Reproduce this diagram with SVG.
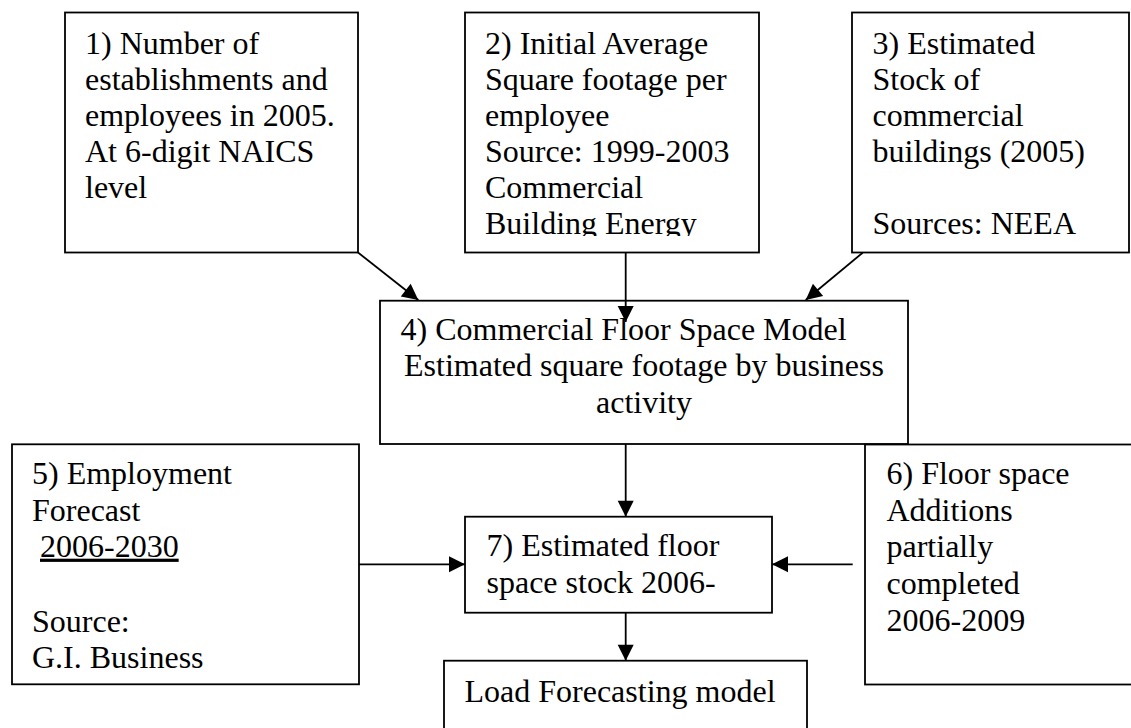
<svg xmlns="http://www.w3.org/2000/svg" width="1131" height="728" viewBox="0 0 1131 728">
<style>
.box{fill:#fff;stroke:#000;stroke-width:1.8}
.t{font-family:"Liberation Serif","Times New Roman",serif;font-size:32px;fill:#000}
.c{stroke:#000;stroke-width:1.8;fill:none}
</style>
<defs>
<marker id="ah" markerUnits="userSpaceOnUse" markerWidth="18" markerHeight="18" refX="16" refY="8" orient="auto" overflow="visible">
<path d="M0,0 L16,8 L0,16 z" fill="#000"/>
</marker>
<clipPath id="clip2"><rect x="465" y="12" width="294" height="224"/></clipPath>
</defs>
<rect width="1131" height="728" fill="#fff"/>
<g id="n1">
<rect class="box" x="65" y="12.5" width="293" height="240"/>
<text class="t" x="85" y="54">1) Number of</text>
<text class="t" x="85" y="90">establishments and</text>
<text class="t" x="85" y="126">employees in 2005.</text>
<text class="t" x="85" y="162">At 6-digit NAICS</text>
<text class="t" x="85" y="198">level</text>
</g>
<g id="n2">
<rect class="box" x="465" y="12.5" width="294" height="240"/>
<g clip-path="url(#clip2)">
<text class="t" x="485" y="53.5">2) Initial Average</text>
<text class="t" x="485" y="89.5">Square footage per</text>
<text class="t" x="485" y="125.5">employee</text>
<text class="t" x="485" y="161.5">Source: 1999-2003</text>
<text class="t" x="485" y="197.5">Commercial</text>
<text class="t" x="485" y="233.5">Building Energy</text>
</g>
</g>
<g id="n3">
<rect class="box" x="852" y="12.5" width="277" height="240"/>
<text class="t" x="872.5" y="53.5">3) Estimated</text>
<text class="t" x="872.5" y="89.5">Stock of</text>
<text class="t" x="872.5" y="125.5">commercial</text>
<text class="t" x="872.5" y="161.5">buildings (2005)</text>
<text class="t" x="872.5" y="233.5">Sources: NEEA</text>
</g>
<g id="n4">
<rect class="box" x="380" y="300.7" width="528" height="143.3"/>
<text class="t" x="400.5" y="340">4) Commercial Floor Space Model</text>
<text class="t" x="644" y="376" text-anchor="middle">Estimated square footage by business</text>
<text class="t" x="644" y="412.5" text-anchor="middle">activity</text>
</g>
<g id="n5">
<rect class="box" x="12" y="444.3" width="347" height="240"/>
<text class="t" x="32" y="484">5) Employment</text>
<text class="t" x="32" y="520.7">Forecast</text>
<text class="t" x="40" y="556.7" text-decoration="underline">2006-2030</text>
<text class="t" x="32" y="631.7">Source:</text>
<text class="t" x="32" y="668">G.I. Business</text>
</g>
<g id="n6">
<rect class="box" x="865" y="444.5" width="280" height="240"/>
<text class="t" x="886.5" y="484">6) Floor space</text>
<text class="t" x="886.5" y="520.7">Additions</text>
<text class="t" x="886.5" y="557">partially</text>
<text class="t" x="886.5" y="594">completed</text>
<text class="t" x="886.5" y="630.7">2006-2009</text>
</g>
<g id="n7">
<rect class="box" x="465" y="516.7" width="307" height="96"/>
<text class="t" x="486.5" y="556">7) Estimated floor</text>
<text class="t" x="486.5" y="593">space stock 2006-</text>
</g>
<g id="n8">
<rect class="box" x="444" y="660.7" width="363" height="100"/>
<text class="t" x="464.5" y="701.5">Load Forecasting model</text>
</g>
<g id="connectors">
<line class="c" x1="358" y1="252.5" x2="418.3" y2="300" marker-end="url(#ah)"/>
<line class="c" x1="625.7" y1="252.5" x2="625.7" y2="322" marker-end="url(#ah)"/>
<line class="c" x1="862.7" y1="252.7" x2="805.7" y2="300" marker-end="url(#ah)"/>
<line class="c" x1="625.7" y1="444" x2="625.7" y2="516.7" marker-end="url(#ah)"/>
<line class="c" x1="625.7" y1="612.7" x2="625.7" y2="660.7" marker-end="url(#ah)"/>
<line class="c" x1="359" y1="564.3" x2="465" y2="564.3" marker-end="url(#ah)"/>
<line class="c" x1="852.7" y1="564.3" x2="772" y2="564.3" marker-end="url(#ah)"/>
</g>
</svg>
